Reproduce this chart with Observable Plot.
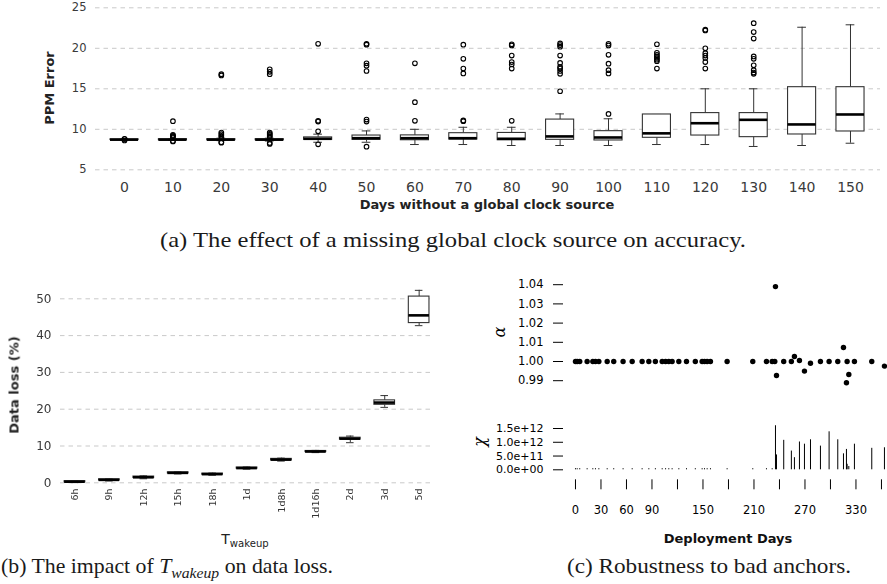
<!DOCTYPE html>
<html><head><meta charset="utf-8">
<script src="https://cdn.jsdelivr.net/npm/d3@7"></script>
<script src="https://cdn.jsdelivr.net/npm/@observablehq/plot@0.6"></script>
<style>
html,body{margin:0;padding:0;background:#fff}
body{width:887px;height:584px;position:relative;overflow:hidden;font-family:"DejaVu Sans",sans-serif}
.pos{position:absolute}
sub{font-size:0.72em;vertical-align:-0.3em;line-height:0}
</style></head><body>
<script>
// ---------- Panel (a): PPM error vs days without a global clock source ----------
const daysA = [0,10,20,30,40,50,60,70,80,90,100,110,120,130,140,150];
const lowA  = [8.70,8.65,8.60,8.55,8.40,8.40,8.12,8.12,8.00,8.00,8.00,8.12,8.12,7.88,8.00,8.28];
const q1A   = [8.68,8.66,8.66,8.66,8.70,8.70,8.65,8.74,8.65,8.70,8.62,8.95,9.23,9.03,9.36,9.73];
const medA  = [8.72,8.72,8.72,8.72,8.83,8.90,8.90,8.90,8.83,9.12,8.99,9.50,10.75,11.17,10.60,11.83];
const q3A   = [8.76,8.78,8.78,8.78,9.00,9.23,9.25,9.52,9.55,11.20,9.77,11.83,12.00,12.00,15.20,15.20];
const highA = [8.80,8.85,8.90,8.90,9.40,9.80,10.00,10.25,10.25,11.90,11.30,11.83,15.00,15.00,22.60,22.90];
const outA = [
  [8.80,8.82,8.62],
  [11.0,9.3,9.2,9.1,9.0,8.55,8.5],
  [16.8,16.65,9.6,9.4,9.2,9.0,8.4,8.35],
  [17.4,17.1,16.8,9.6,9.45,9.3,9.15,9.0,8.3,8.2],
  [20.55,11.05,10.95,9.75,8.15],
  [20.55,20.45,18.15,17.85,17.2,11.2,10.95,7.85],
  [18.15,13.35,11.05],
  [20.45,18.7,17.5,16.9,11.1,11.0],
  [20.5,20.35,19.1,18.3,18.0,17.5,11.05],
  [20.6,20.4,20.2,19.1,18.2,17.7,17.5,17.2,16.85,14.7],
  [20.55,20.35,19.2,18.1,17.3,16.9,11.9],
  [20.5,19.45,19.2,19.0,18.8,18.6,18.4,17.5],
  [22.3,22.2,20.0,19.4,19.1,18.8,18.3,17.5],
  [23.1,22.0,21.2,19.0,18.7,17.9,17.3,17.0,16.85],
  [],
  []
];
const gridA = [5,10,15,20,25];

// ---------- Panel (b): data loss vs T_wakeup ----------
const labelsB = ["6h","9h","12h","15h","18h","1d","1d8h","1d16h","2d","3d","5d"];
const lowB  = [0.05,0.50,1.10,2.40,2.05,3.70,5.90,8.20,10.90,20.50,42.70];
const q1B   = [0.15,0.65,1.30,2.55,2.20,3.85,6.10,8.35,11.75,21.20,43.40];
const medB  = [0.30,0.80,1.50,2.70,2.35,4.00,6.30,8.50,12.00,21.80,45.50];
const q3B   = [0.45,0.95,1.70,2.85,2.50,4.15,6.50,8.65,12.25,22.40,50.60];
const highB = [0.55,1.10,1.90,3.00,2.65,4.30,6.70,8.80,12.70,23.70,52.30];
const gridB = [0,10,20,30,40,50];

// ---------- Panel (c): robustness to bad anchors ----------
const daysC  = [0,2,5,13.7,20.4,23.5,27.5,37.3,45,56,66.7,78.4,86.3,94,102,106,109.8,113.7,121.6,130.6,141,149,151.8,154.9,158.8,178.4,208.6,224.7,231.4,234.5,235.3,236.5,245,254,257.6,263.5,269.4,276.5,288.2,298.4,308.6,315.3,318.8,319.6,321.6,328.2,348.6,363.5];
const alphaC = [1,1,1,1,1,1,1,1,1,1,1,1,1,1,1,1,1,1,1,1,1,1,1,1,1,1,1,1,1,1,1.039,0.9927,1,1,1.0026,1.0005,0.995,0.9991,1,1,1,1.0073,0.9889,1,0.9932,1,1,0.9976];
const chiDays = [0,2,5,13.7,20.4,23.5,27.5,37.3,45,56,66.7,78.4,86.3,94,102,106,109.8,113.7,121.6,130.6,141,149,151.8,154.9,158.8,178.4,208.6,224.7,231.4,235.3,236.5,245,254,257.6,263.5,269.4,276.5,288.2,298.4,308.6,315.3,318.8,319.6,321.6,328.2,348.6,363.5];
const chiVals = [4e10,4e10,4e10,4e10,4e10,4e10,4e10,4e10,4e10,4e10,4e10,4e10,4e10,4e10,4e10,4e10,4e10,4e10,4e10,4e10,4e10,4e10,4e10,4e10,4e10,4e10,4e10,4e10,4e10,1.6e12,0.54e12,1.07e12,0.68e12,0.44e12,1.01e12,0.93e12,1.09e12,0.86e12,1.38e12,1.09e12,0.58e12,0.74e12,0.2e12,0.12e12,0.93e12,0.78e12,0.80e12];
const alphaTicks = [0.99,1.00,1.01,1.02,1.03,1.04];
const chiTicks = [0,5e11,1e12,1.5e12];
const chiTickLabels = ["0.0e+00","5.0e+11","1.0e+12","1.5e+12"];
const dayTicksC = [0,30,60,90,120,150,180,210,240,270,300,330,360];
const dayLabelsC = [0,30,60,90,150,210,270,330];

// ---------- helpers ----------
function place(el, left, top){
  const w = document.createElement("div");
  w.className = "pos"; w.style.left = left+"px"; w.style.top = top+"px";
  w.appendChild(el); document.body.appendChild(w); return w;
}
function label(html, cx, cy, o = {}){
  const d = document.createElement("div");
  d.innerHTML = html;
  Object.assign(d.style, {position:"absolute", left:cx+"px", top:cy+"px",
    transform:`translate(-50%,-50%) rotate(${o.rotate||0}deg)`,
    fontSize:(o.size||13)+"px", fontWeight:o.weight||"bold", fontStyle:o.italic?"italic":"normal",
    fontFamily:o.family||'"DejaVu Sans", sans-serif', color:o.color||"#222",
    whiteSpace:"nowrap", lineHeight:"1"});
  document.body.appendChild(d); return d;
}
function caption(html, left, right, cy, size){
  const d = document.createElement("div");
  d.innerHTML = html;
  Object.assign(d.style, {position:"absolute", left:left+"px", top:(cy-size/2)+"px",
    fontFamily:'"Liberation Serif", serif', fontSize:size+"px", lineHeight:"1",
    whiteSpace:"nowrap", color:"#1a1a1a", transformOrigin:"0 50%"});
  document.body.appendChild(d);
  const w = d.getBoundingClientRect().width;
  d.style.transform = `scaleX(${(right-left)/w})`;
}
const baseStyle = {fontFamily:'"DejaVu Sans", sans-serif', fontSize:"12px", color:"#3a3a3a", background:"none", overflow:"visible"};

// ---------- draw panel (a) ----------
const rowsA = daysA.map((d,i)=>({day:d, lo:lowA[i], q1:q1A[i], med:medA[i], q3:q3A[i], hi:highA[i]}));
const outRowsA = daysA.flatMap((d,i)=>outA[i].map(v=>({day:d, v})));
const BWA = 2.9, CWA = 0.9;
const plotA = Plot.plot({
  width:887, height:215, marginLeft:95, marginRight:7, marginTop:7.3, marginBottom:45.7,
  style: baseStyle,
  x:{type:"linear", domain:[-6,156.2]},
  y:{domain:[5,25]},
  marks:[
    Plot.ruleY(gridA, {y:d=>d, x1:-6, x2:156.2, stroke:"#c9c9c9", strokeDasharray:"4.5,4"}),
    Plot.ruleX(rowsA, {x:"day", y1:"lo", y2:"q1", stroke:"#333"}),
    Plot.ruleX(rowsA, {x:"day", y1:"q3", y2:"hi", stroke:"#333"}),
    Plot.ruleY(rowsA, {y:"lo", x1:d=>d.day-CWA, x2:d=>d.day+CWA, stroke:"#333"}),
    Plot.ruleY(rowsA, {y:"hi", x1:d=>d.day-CWA, x2:d=>d.day+CWA, stroke:"#333"}),
    Plot.rect(rowsA, {x1:d=>d.day-BWA, x2:d=>d.day+BWA, y1:"q1", y2:"q3", fill:"white", stroke:"#333", strokeWidth:1.1}),
    Plot.ruleY(rowsA, {y:"med", x1:d=>d.day-BWA, x2:d=>d.day+BWA, stroke:"#000", strokeWidth:2.6}),
    Plot.dot(outRowsA, {x:"day", y:"v", r:2.3, stroke:"#000", fill:"none", strokeWidth:1.1}),
    Plot.axisX({ticks:daysA, tickFormat:d=>String(d), tickSize:0, tickPadding:12.4, fontSize:14, label:null}),
    Plot.axisY({ticks:gridA, tickSize:0, tickPadding:9, fontSize:11.5, label:null})
  ]
});
place(plotA, 0, 0);
label("PPM Error", 49, 87.5, {rotate:-90, size:13});
label("Days without a global clock source", 487, 204, {size:13});
caption("(a) The effect of a missing global clock source on accuracy.", 160, 746, 240, 21);

// ---------- draw panel (b) ----------
const rowsB = labelsB.map((l,i)=>({i, lo:lowB[i], q1:q1B[i], med:medB[i], q3:q3B[i], hi:highB[i]}));
const BWB = 0.3, CWB = 0.11;
const plotB = Plot.plot({
  width:445, height:250, marginLeft:60, marginRight:15, marginTop:18.3, marginBottom:47.7,
  style: baseStyle,
  x:{type:"linear", domain:[-0.42,10.33]},
  y:{domain:[0,50]},
  marks:[
    Plot.ruleY(gridB, {y:d=>d, x1:-0.42, x2:10.33, stroke:"#c9c9c9", strokeDasharray:"4.5,4"}),
    Plot.ruleX(rowsB, {x:"i", y1:"lo", y2:"q1", stroke:"#333"}),
    Plot.ruleX(rowsB, {x:"i", y1:"q3", y2:"hi", stroke:"#333"}),
    Plot.ruleY(rowsB, {y:"lo", x1:d=>d.i-CWB, x2:d=>d.i+CWB, stroke:"#333"}),
    Plot.ruleY(rowsB, {y:"hi", x1:d=>d.i-CWB, x2:d=>d.i+CWB, stroke:"#333"}),
    Plot.rect(rowsB, {x1:d=>d.i-BWB, x2:d=>d.i+BWB, y1:"q1", y2:"q3", fill:"white", stroke:"#333", strokeWidth:1.1}),
    Plot.ruleY(rowsB, {y:"med", x1:d=>d.i-BWB, x2:d=>d.i+BWB, stroke:"#000", strokeWidth:2.6}),
    Plot.axisX({ticks:labelsB.map((l,i)=>i), tickFormat:i=>labelsB[i], tickRotate:-90, tickSize:0, tickPadding:5.7, fontSize:9.5, fill:"#333", label:null}),
    Plot.axisY({ticks:gridB, tickSize:0, tickPadding:9, fontSize:12, label:null})
  ]
});
const wb = place(plotB, 0, 280);
wb.style.willChange = "transform";
label("Data loss (%)", 14, 385, {rotate:-90, size:13});
label("T<sub>wakeup</sub>", 245, 539, {size:14, weight:"normal", color:"#222"});
caption('(b) The impact of <i>T</i><sub><i>wakeup</i></sub> on data loss.', 1, 333, 566, 21);

// ---------- draw panel (c) ----------
const rowsC = daysC.map((d,i)=>({day:d, a:alphaC[i]}));
const rowsChi = chiDays.map((d,i)=>({day:d, v:chiVals[i]}));
const cStyle = {...baseStyle, color:"#000", fontSize:"11px"};
const plotAlpha = Plot.plot({
  width:407, height:125, marginLeft:83, marginRight:0, marginTop:14.2, marginBottom:14.8,
  style: cStyle,
  x:{type:"linear", domain:[-14.1,367.1], axis:null},
  y:{domain:[0.99,1.04]},
  marks:[
    Plot.dot(rowsC, {x:"day", y:"a", r:2.7, fill:"#000"}),
    Plot.axisY({ticks:alphaTicks, tickFormat:d3.format(".2f"), tickSize:10, tickPadding:10, fontSize:11.5, label:null})
  ]
});
place(plotAlpha, 480, 270);
label("α", 500, 332, {rotate:-90, size:16, weight:"normal", italic:true, family:'"DejaVu Serif", serif', color:"#000"});

const plotChi = Plot.plot({
  width:407, height:120, marginLeft:83, marginRight:0, marginTop:13, marginBottom:65.7,
  style: cStyle,
  x:{type:"linear", domain:[-14.1,367.1]},
  y:{domain:[0,1.5e12]},
  marks:[
    Plot.ruleX(rowsChi, {x:"day", y1:0, y2:"v", stroke:"#000", strokeWidth:1}),
    Plot.axisY({ticks:chiTicks, tickFormat:d=>chiTickLabels[chiTicks.indexOf(d)], tickSize:10, tickPadding:10, fontSize:11, label:null}),
    Plot.axisX({ticks:dayTicksC, tickFormat:d=>dayLabelsC.includes(d)?String(d):"", tickSize:10, tickPadding:16, dy:10, fontSize:11.5, label:null})
  ]
});
place(plotChi, 480, 415);
label("χ", 480, 442, {rotate:-90, size:16, weight:"normal", italic:true, family:'"DejaVu Serif", serif', color:"#000"});
label("Deployment Days", 728, 537.5, {size:13, color:"#111"});
caption("(c) Robustness to bad anchors.", 567, 851, 566, 21);
</script>
</body></html>
